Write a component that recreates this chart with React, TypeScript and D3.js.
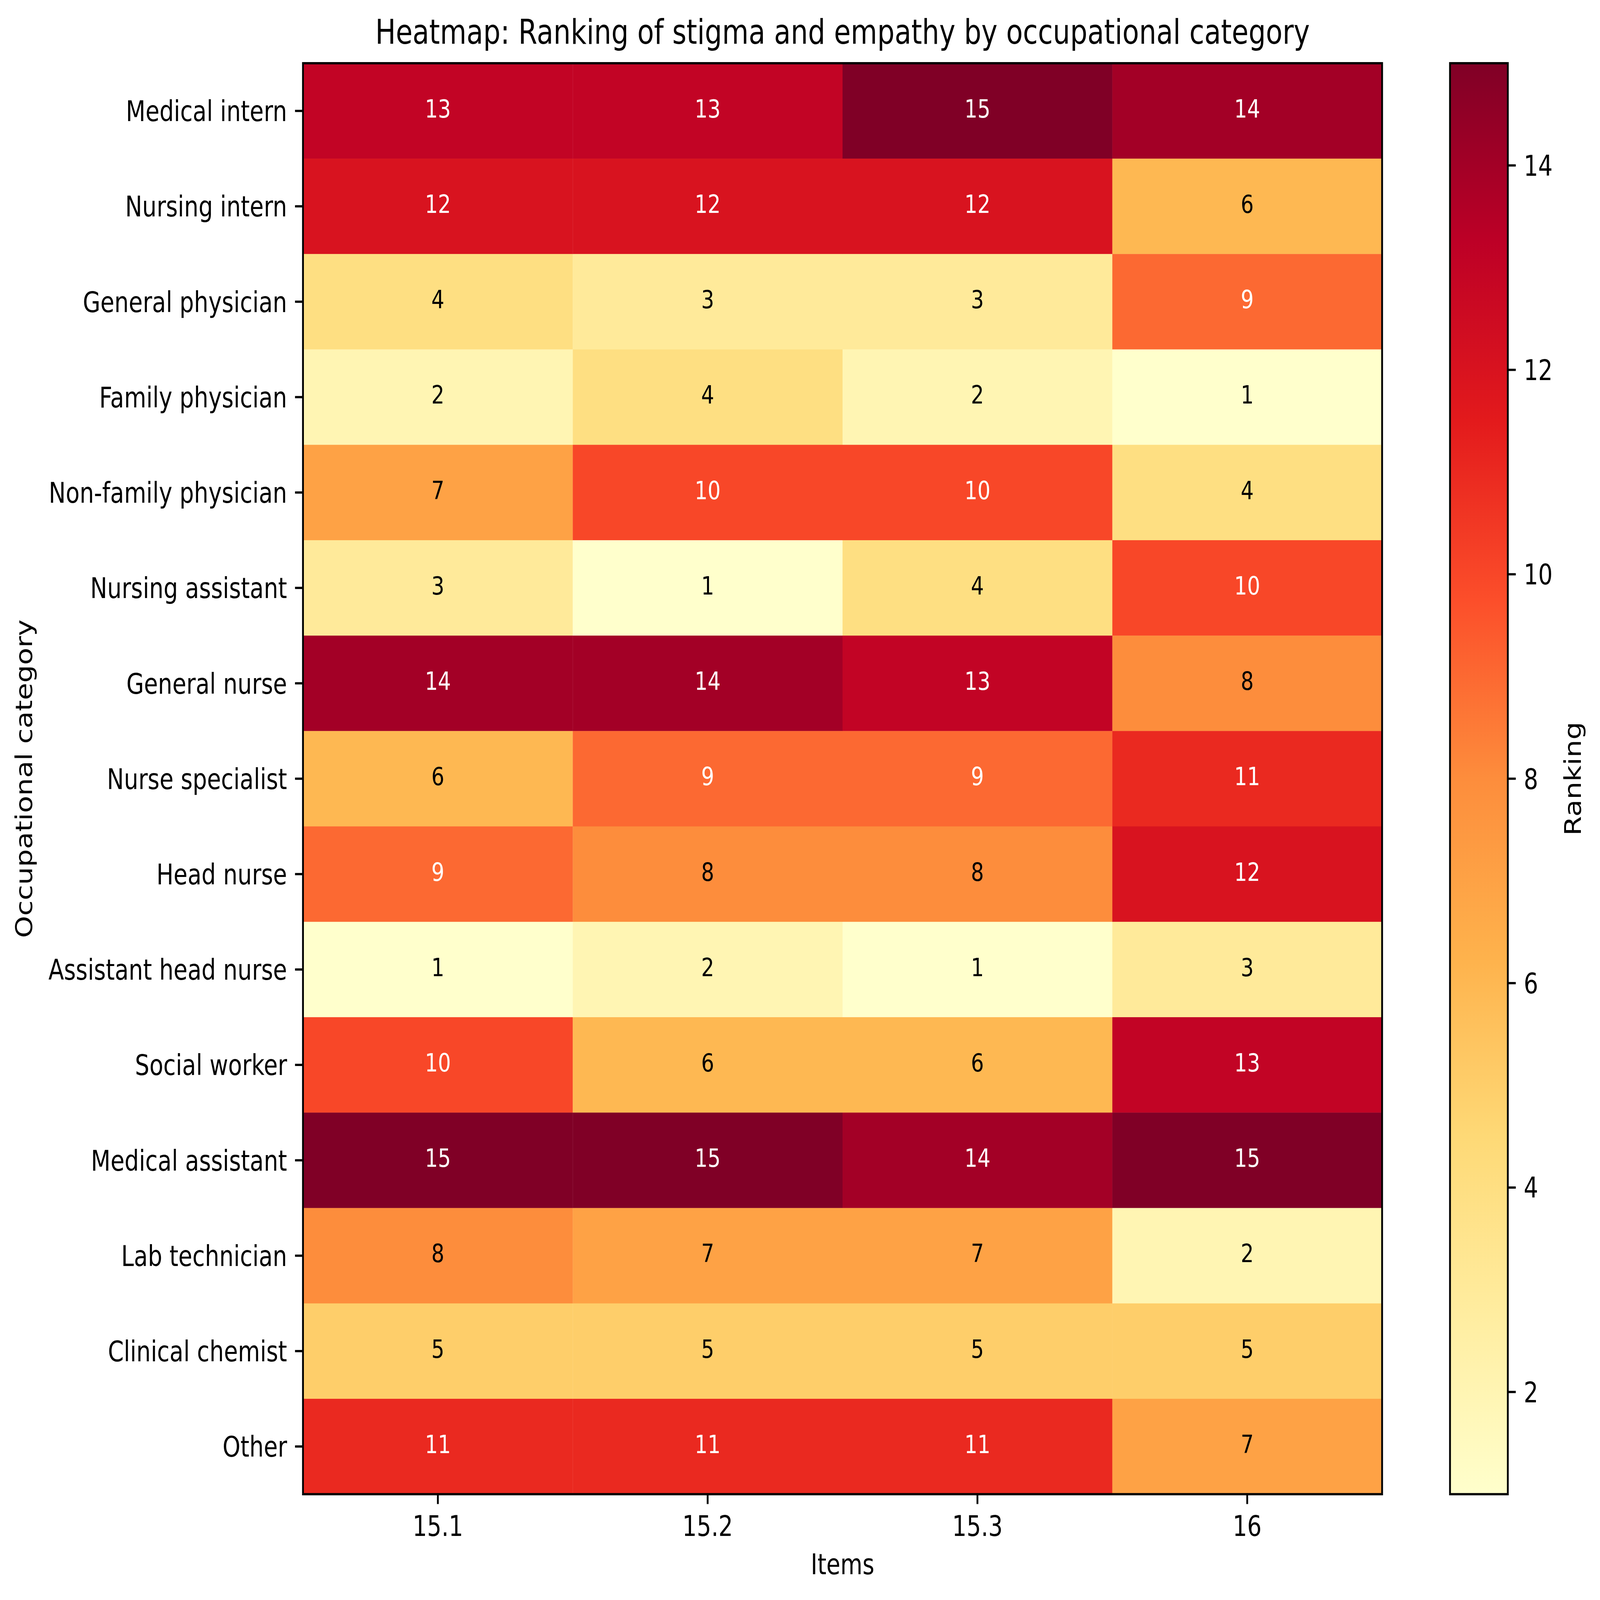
import { useMemo } from 'react';
import { scaleBand, scaleLinear, scaleSequential, piecewise, interpolateRgb } from 'd3';

// occupational categories (rows, top to bottom)
const categories = [
  'Medical intern',
  'Nursing intern',
  'General physician',
  'Family physician',
  'Non-family physician',
  'Nursing assistant',
  'General nurse',
  'Nurse specialist',
  'Head nurse',
  'Assistant head nurse',
  'Social worker',
  'Medical assistant',
  'Lab technician',
  'Clinical chemist',
  'Other',
];

const items = ['15.1', '15.2', '15.3', '16'];

// one ranking column per item
const item151 = [13, 12, 4, 2, 7, 3, 14, 6, 9, 1, 10, 15, 8, 5, 11];
const item152 = [13, 12, 3, 4, 10, 1, 14, 9, 8, 2, 6, 15, 7, 5, 11];
const item153 = [15, 12, 3, 2, 10, 4, 13, 9, 8, 1, 6, 14, 7, 5, 11];
const item16 = [14, 6, 9, 1, 4, 10, 8, 11, 12, 3, 13, 15, 2, 5, 7];

const colorbarTicks = [2, 4, 6, 8, 10, 12, 14];

// matplotlib YlOrRd anchors
const ylOrRd = ['#ffffcc', '#ffeda0', '#fed976', '#feb24c', '#fd8d3c', '#fc4e2a', '#e31a1c', '#bd0026', '#800026'];

const W = 5867;
const H = 4733;
const font = '"DejaVu Sans", sans-serif';

const App = () => {
  const margin = { left: 1111, right: 5068, top: 187, bottom: 4420 };
  const cb = { left: 5317, right: 5529 };
  const pt = 600 / 72; // px per point
  const tickLen = 3.5 * pt;
  const pad = 3.5 * pt;
  const lw = 0.8 * pt;
  const tickFont = 10 * pt;

  const columns = [item151, item152, item153, item16];

  const xScale = useMemo(
    () => scaleBand().domain(items).range([margin.left, margin.right]).padding(0),
    [],
  );
  const yScale = useMemo(
    () => scaleBand().domain(categories).range([margin.top, margin.bottom]).padding(0),
    [],
  );
  const color = useMemo(() => scaleSequential(piecewise(interpolateRgb, ylOrRd)).domain([1, 15]), []);
  const cbScale = useMemo(() => scaleLinear().domain([1, 15]).range([margin.bottom, margin.top]), []);

  const cells: { item: string; cat: string; v: number }[] = [];
  columns.forEach((col, j) => {
    col.forEach((v, i) => cells.push({ item: items[j], cat: categories[i], v }));
  });

  const cx = (margin.left + margin.right) / 2;
  const cy = (margin.top + margin.bottom) / 2;

  return (
    <svg
      viewBox={`0 0 ${W} ${H}`}
      preserveAspectRatio="none"
      style={{ position: 'fixed', left: 0, top: 0, width: '100vw', height: '100vh', background: 'white' }}
      fontFamily={font}
    >
      <defs>
        <linearGradient id="cbGrad" x1="0" y1="1" x2="0" y2="0">
          {ylOrRd.map((c, i) => (
            <stop key={i} offset={i / (ylOrRd.length - 1)} stopColor={c} />
          ))}
        </linearGradient>
      </defs>

      {/* cells */}
      {cells.map((d, k) => (
        <rect
          key={k}
          x={xScale(d.item)}
          y={yScale(d.cat)}
          width={xScale.bandwidth() + 0.5}
          height={yScale.bandwidth() + 0.5}
          fill={color(d.v)}
        />
      ))}
      {cells.map((d, k) => (
        <text
          key={'t' + k}
          x={(xScale(d.item) as number) + xScale.bandwidth() / 2}
          y={(yScale(d.cat) as number) + yScale.bandwidth() / 2 + 0.26 * 75}
          fontSize={75}
          textAnchor="middle"
          fill={d.v > 8 ? 'white' : 'black'}
        >
          {d.v}
        </text>
      ))}

      {/* frame */}
      <rect
        x={margin.left}
        y={margin.top}
        width={margin.right - margin.left}
        height={margin.bottom - margin.top}
        fill="none"
        stroke="black"
        strokeWidth={lw}
      />

      {/* y axis */}
      {categories.map((c) => {
        const y = (yScale(c) as number) + yScale.bandwidth() / 2;
        return (
          <g key={c}>
            <line x1={margin.left - tickLen} x2={margin.left} y1={y} y2={y} stroke="black" strokeWidth={lw} />
            <text x={margin.left - tickLen - pad} y={y + 0.3645 * tickFont} fontSize={tickFont} textAnchor="end">
              {c}
            </text>
          </g>
        );
      })}

      {/* x axis */}
      {items.map((it) => {
        const x = (xScale(it) as number) + xScale.bandwidth() / 2;
        return (
          <g key={it}>
            <line x1={x} x2={x} y1={margin.bottom} y2={margin.bottom + tickLen} stroke="black" strokeWidth={lw} />
            <text x={x} y={4543} fontSize={tickFont} textAnchor="middle">
              {it}
            </text>
          </g>
        );
      })}

      <text x={cx} y={4657} fontSize={tickFont} textAnchor="middle">
        Items
      </text>
      <text x={118} y={cy} fontSize={tickFont} textAnchor="middle" transform={`rotate(-90, 118, ${cy})`}>
        Occupational category
      </text>
      <text x={cx} y={130} fontSize={12 * pt} textAnchor="middle">
        Heatmap: Ranking of stigma and empathy by occupational category
      </text>

      {/* colorbar */}
      <rect
        x={cb.left}
        y={cbScale(15)}
        width={cb.right - cb.left}
        height={cbScale(1) - cbScale(15)}
        fill="url(#cbGrad)"
        stroke="black"
        strokeWidth={lw}
      />
      {colorbarTicks.map((t) => (
        <g key={t}>
          <line x1={cb.right} x2={cb.right + tickLen} y1={cbScale(t)} y2={cbScale(t)} stroke="black" strokeWidth={lw} />
          <text x={cb.right + tickLen + pad} y={cbScale(t) + 0.3645 * tickFont} fontSize={tickFont}>
            {t}
          </text>
        </g>
      ))}
      <text x={5797} y={cy} fontSize={tickFont} textAnchor="middle" transform={`rotate(-90, 5797, ${cy})`}>
        Ranking
      </text>
    </svg>
  );
};

export default App;
